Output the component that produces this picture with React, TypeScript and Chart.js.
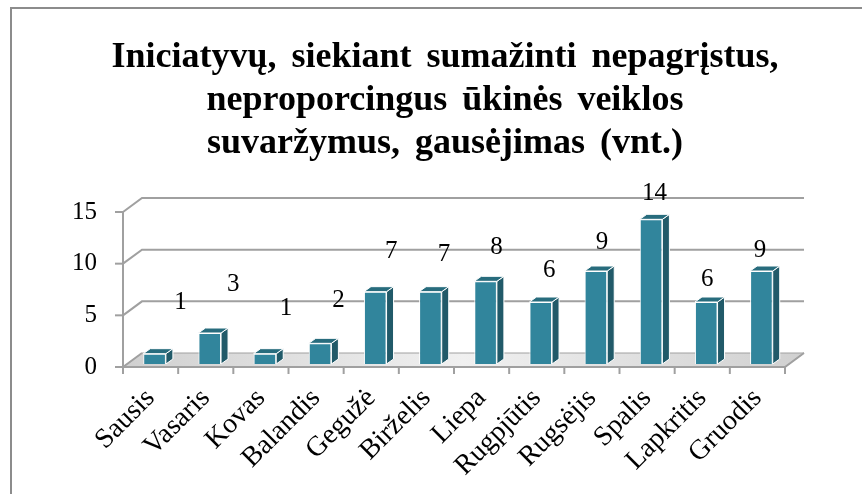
import React, { useEffect, useRef } from "react";
import { Chart, registerables } from "chart.js";

Chart.register(...registerables);

const titleLines = [
  "Iniciatyvų, siekiant sumažinti nepagrįstus,",
  "neproporcingus ūkinės veiklos",
  "suvaržymus, gausėjimas (vnt.)",
];
const months = [
  "Sausis",
  "Vasaris",
  "Kovas",
  "Balandis",
  "Gegužė",
  "Birželis",
  "Liepa",
  "Rugpjūtis",
  "Rugsėjis",
  "Spalis",
  "Lapkritis",
  "Gruodis",
];
const values = [1, 3, 1, 2, 7, 7, 8, 6, 9, 14, 6, 9];
const yTicks = [0, 5, 10, 15];

const FONT = '"Liberation Serif", "Times New Roman", serif';
const WALL = { dx: 19, dy: -14 };
const BAR_SHIFT = { dx: 4, dy: -3 };
const BAR_DEPTH = { dx: 7, dy: -5 };
const GRID_COLOR = "#a0a0a0";

const decor = {
  id: "decor3d",
  beforeDraw(chart: any) {
    const ctx = chart.ctx;
    ctx.save();
    ctx.fillStyle = "#ffffff";
    ctx.fillRect(0, 0, chart.width, chart.height);
    // frame
    ctx.strokeStyle = "#8c8c8c";
    ctx.lineWidth = 2;
    ctx.beginPath();
    ctx.moveTo(11, chart.height);
    ctx.lineTo(11, 8);
    ctx.lineTo(862, 8);
    ctx.stroke();
    // title
    ctx.fillStyle = "#000";
    ctx.font = `bold 36px ${FONT}`;
    (ctx as any).wordSpacing = "6px";
    ctx.textAlign = "center";
    ctx.textBaseline = "alphabetic";
    titleLines.forEach((t, i) => ctx.fillText(t, 445, 67 + i * 43));
    (ctx as any).wordSpacing = "0px";
    ctx.restore();
  },
  beforeDatasetsDraw(chart: any) {
    const ctx = chart.ctx;
    const { left: L, right: R, bottom: B } = chart.chartArea;
    const ys = chart.scales.y;
    ctx.save();
    // floor
    const g = ctx.createLinearGradient(L, B, R + WALL.dx, B + WALL.dy);
    g.addColorStop(0, "#d0d0d0");
    g.addColorStop(0.5, "#f0f0f0");
    g.addColorStop(1, "#d0d0d0");
    ctx.fillStyle = g;
    ctx.beginPath();
    ctx.moveTo(L, B);
    ctx.lineTo(R, B);
    ctx.lineTo(R + WALL.dx, B + WALL.dy);
    ctx.lineTo(L + WALL.dx, B + WALL.dy);
    ctx.closePath();
    ctx.fill();
    ctx.strokeStyle = GRID_COLOR;
    ctx.lineWidth = 1;
    ctx.stroke();
    // back wall gridlines + diagonals
    ctx.lineWidth = 2;
    ctx.strokeStyle = GRID_COLOR;
    yTicks.forEach((v) => {
      const y = ys.getPixelForValue(v);
      ctx.beginPath();
      ctx.moveTo(L, y);
      ctx.lineTo(L + WALL.dx, y + WALL.dy);
      if (v > 0) ctx.lineTo(R + WALL.dx, y + WALL.dy);
      ctx.stroke();
      // tick mark
      ctx.beginPath();
      ctx.moveTo(L - 8, y);
      ctx.lineTo(L, y);
      ctx.stroke();
    });
    // y axis line
    ctx.beginPath();
    ctx.moveTo(L, ys.getPixelForValue(15));
    ctx.lineTo(L, B + 7);
    ctx.stroke();
    // x axis line and ticks
    ctx.beginPath();
    ctx.moveTo(L, B);
    ctx.lineTo(R, B);
    ctx.lineTo(R + WALL.dx, B + WALL.dy);
    ctx.stroke();
    const cw = (R - L) / months.length;
    for (let i = 0; i <= months.length; i++) {
      const x = L + i * cw;
      ctx.beginPath();
      ctx.moveTo(x, B);
      ctx.lineTo(x, B + 7);
      ctx.stroke();
    }
    ctx.restore();
    ctx.save();
    ctx.translate(BAR_SHIFT.dx, BAR_SHIFT.dy);
  },
  afterDatasetsDraw(chart: any) {
    const ctx = chart.ctx;
    ctx.restore();
    const meta = chart.getDatasetMeta(0);
    ctx.save();
    meta.data.forEach((bar: any, i: number) => {
      const { x, y, base, width } = bar.getProps(["x", "y", "base", "width"], true);
      const l = x - width / 2 + BAR_SHIFT.dx;
      const r = x + width / 2 + BAR_SHIFT.dx;
      const t = y + BAR_SHIFT.dy;
      const b = base + BAR_SHIFT.dy;
      ctx.lineWidth = 1;
      ctx.strokeStyle = "#ffffff";
      // side
      ctx.fillStyle = "#215a69";
      ctx.beginPath();
      ctx.moveTo(r, t);
      ctx.lineTo(r + BAR_DEPTH.dx, t + BAR_DEPTH.dy);
      ctx.lineTo(r + BAR_DEPTH.dx, b + BAR_DEPTH.dy);
      ctx.lineTo(r, b);
      ctx.closePath();
      ctx.fill();
      ctx.stroke();
      // top
      ctx.fillStyle = "#286c7d";
      ctx.beginPath();
      ctx.moveTo(l, t);
      ctx.lineTo(r, t);
      ctx.lineTo(r + BAR_DEPTH.dx, t + BAR_DEPTH.dy);
      ctx.lineTo(l + BAR_DEPTH.dx, t + BAR_DEPTH.dy);
      ctx.closePath();
      ctx.fill();
      ctx.stroke();
      // data label (perspective-style placement above the bar)
      ctx.fillStyle = "#000";
      ctx.font = `25px ${FONT}`;
      ctx.textAlign = "center";
      ctx.textBaseline = "middle";
      const lx = (l + r) / 2 + (26 - 2.5 * i);
      const ly = t - (51 - 2.8 * i);
      ctx.fillText(String(values[i]), lx, ly);
    });
    ctx.restore();
  },
};

export default function App() {
  const ref = useRef<HTMLCanvasElement>(null);
  useEffect(() => {
    if (!ref.current) return;
    const chart = new Chart(ref.current, {
      type: "bar",
      data: {
        labels: months,
        datasets: [
          {
            data: values,
            backgroundColor: "#31859c",
            borderColor: "#ffffff",
            borderWidth: 1,
            barPercentage: 0.41,
            categoryPercentage: 1,
          },
        ],
      },
      options: {
        animation: false,
        responsive: false,
        maintainAspectRatio: false,
        layout: { padding: { top: 212, right: 81, left: 0, bottom: 0 } },
        plugins: {
          legend: { display: false },
          title: { display: false },
          tooltip: { enabled: false },
        },
        scales: {
          x: {
            grid: { display: false, drawTicks: false },
            border: { display: false },
            ticks: {
              minRotation: 45,
              maxRotation: 45,
              autoSkip: false,
              color: "#000",
              padding: 15,
              font: { family: FONT, size: 28 },
            },
            afterFit: (s: any) => {
              s.height = 127;
            },
          },
          y: {
            min: 0,
            max: 15,
            grid: { display: false, drawTicks: false },
            border: { display: false },
            ticks: {
              stepSize: 5,
              color: "#000",
              padding: 26,
              font: { family: FONT, size: 25 },
            },
            afterFit: (s: any) => {
              s.width = 123;
            },
          },
        },
      },
      plugins: [decor],
    });
    return () => chart.destroy();
  }, []);
  return (
    <div style={{ position: "fixed", left: 0, top: 0, width: 866, height: 494 }}>
      <canvas ref={ref} width={866} height={494} style={{ display: "block" }} />
    </div>
  );
}
